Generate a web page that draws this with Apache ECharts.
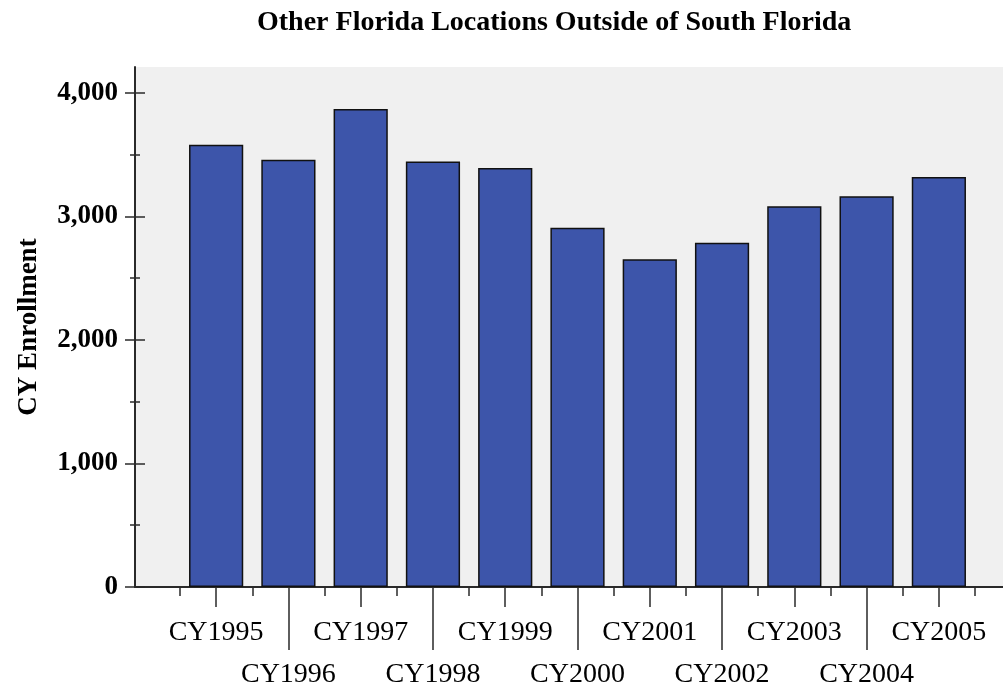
<!DOCTYPE html>
<html>
<head>
<meta charset="utf-8">
<script src="https://cdn.jsdelivr.net/npm/echarts@6/dist/echarts.min.js"></script>
<style>
html,body{margin:0;padding:0;background:#fff;}
#c{width:1003px;height:691px;}
</style>
</head>
<body>
<div id="c"></div>
<script>
const chartTitle = "Other Florida Locations Outside of South Florida";
const yAxisTitle = "CY Enrollment";
const categories = ["CY1995","CY1996","CY1997","CY1998","CY1999","CY2000","CY2001","CY2002","CY2003","CY2004","CY2005"];
const enrollment = [3581, 3460, 3870, 3444, 3393, 2908, 2653, 2788, 3082, 3163, 3320];
const yMajorTicks = [0, 1000, 2000, 3000, 4000];
const yMinorTicks = [500, 1500, 2500, 3500];

const FONT = '"Liberation Serif","Times New Roman",serif';
const AX = '#2a2a2a';
const YMAX = 4210;

const chart = echarts.init(document.getElementById('c'), null, {renderer:'canvas'});

function yA(extra){
  return Object.assign({
    type:'value', gridIndex:0, min:0, max:YMAX, position:'left',
    axisLine:{show:false}, splitLine:{show:false},
    axisLabel:{show:false}, axisTick:{show:false}
  }, extra);
}

const option = {
  animation:false,
  backgroundColor:'#ffffff',
  title:{
    text: chartTitle, left: 252, top: 4,
    textStyle:{fontFamily:FONT, fontWeight:'bold', fontSize:28, color:'#000'}
  },
  grid:[
    {left:135, right:0, top:67, bottom:104, show:true, backgroundColor:'#f0f0f0', borderWidth:0},
    {left:180, right:28, top:67, bottom:104, show:false}
  ],
  xAxis:[
    {type:'value', gridIndex:0, min:0, max:1, position:'bottom', axisLine:{show:true, onZero:false, lineStyle:{color:AX, width:2}},
     axisTick:{show:false}, axisLabel:{show:false}, splitLine:{show:false}},
    {type:'category', gridIndex:1, position:'bottom', data:categories, boundaryGap:true,
     axisLine:{show:false, onZero:false}, axisTick:{show:true, alignWithLabel:false, length:9, lineStyle:{color:AX, width:1.5}},
     axisLabel:{show:false}},
    {type:'category', gridIndex:1, position:'bottom', data:categories, boundaryGap:true,
     axisLine:{show:false, onZero:false},
     axisTick:{show:true, alignWithLabel:true, length:20, interval:function(i){return i%2===0;}, lineStyle:{color:AX, width:1.5}},
     axisLabel:{show:true, interval:function(i){return i%2===0;}, margin:32, fontFamily:FONT, fontSize:28, color:'#000'}},
    {type:'category', gridIndex:1, position:'bottom', data:categories, boundaryGap:true,
     axisLine:{show:false, onZero:false},
     axisTick:{show:true, alignWithLabel:true, length:63, interval:function(i){return i%2===1;}, lineStyle:{color:AX, width:1.5}},
     axisLabel:{show:true, interval:function(i){return i%2===1;}, margin:74, fontFamily:FONT, fontSize:28, color:'#000'}}
  ],
  yAxis:[
    yA({axisLine:{show:true, lineStyle:{color:AX, width:2}},
        axisTick:{show:true, inside:false, length:10, customValues:yMajorTicks, lineStyle:{color:AX, width:1.5}},
        axisLabel:{show:true, customValues:yMajorTicks, margin:17, fontFamily:FONT, fontWeight:'bold', fontSize:27, color:'#000',
          formatter:function(v){return v.toLocaleString('en-US');}},
        name:yAxisTitle, nameLocation:'middle', nameGap:92, nameRotate:90,
        nameTextStyle:{fontFamily:FONT, fontWeight:'bold', fontSize:27, color:'#000'}}),
    yA({axisTick:{show:true, inside:true, length:10, customValues:yMajorTicks, lineStyle:{color:AX, width:1.5}}}),
    yA({axisTick:{show:true, inside:false, length:5, customValues:yMinorTicks, lineStyle:{color:AX, width:1.5}}}),
    yA({axisTick:{show:true, inside:true, length:5, customValues:yMinorTicks, lineStyle:{color:AX, width:1.5}}}),
    {type:'value', gridIndex:1, min:0, max:YMAX, interval:1000, position:'left', show:true,
     axisLine:{show:false}, axisTick:{show:false}, axisLabel:{show:false}, splitLine:{show:false}}
  ],
  series:[{
    type:'bar', xAxisIndex:1, yAxisIndex:4, data:enrollment,
    barCategoryGap:'25%',
    itemStyle:{color:'#3d55aa', borderColor:'#111', borderWidth:1.5}
  }]
};
chart.setOption(option);
</script>
</body>
</html>
